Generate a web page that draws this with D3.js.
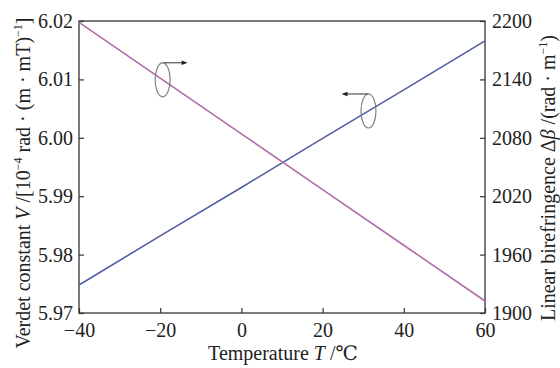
<!DOCTYPE html>
<html>
<head>
<meta charset="utf-8" />
<title>Verdet constant and linear birefringence</title>
<script src="https://d3js.org/d3.v7.min.js"></script>
<style>
  body { margin: 0; background: #fff; }
  text { font-family: "Liberation Serif", "DejaVu Serif", serif; fill: #222; }
</style>
</head>
<body>
<svg id="chart"></svg>
<script>
// data
var temps = [-40, -20, 0, 20, 40, 60];
var verdet = [5.9748, 5.9832, 5.9915, 5.9999, 6.0082, 6.0166];   // left axis
var biref = [2198.6, 2141.3, 2084.1, 2026.8, 1969.6, 1912.3];    // right axis
var xTicks = [-40, -20, 0, 20, 40, 60];
var leftTicks = [5.97, 5.98, 5.99, 6.00, 6.01, 6.02];
var rightTicks = [1900, 1960, 2020, 2080, 2140, 2200];

var width = 560, height = 368;
var margin = {top: 21, right: 75, bottom: 55, left: 79};

var svg = d3.select("#chart").attr("width", width).attr("height", height);

var x = d3.scaleLinear().domain([-40, 60]).range([margin.left, width - margin.right]);
var yL = d3.scaleLinear().domain([5.97, 6.02]).range([height - margin.bottom, margin.top]);
var yR = d3.scaleLinear().domain([1900, 2200]).range([height - margin.bottom, margin.top]);

// frame
svg.append("rect")
  .attr("x", margin.left).attr("y", margin.top)
  .attr("width", width - margin.left - margin.right)
  .attr("height", height - margin.top - margin.bottom)
  .attr("fill", "none").attr("stroke", "#333").attr("stroke-width", 1.3);

var fs = "20px";

var gx = svg.append("g")
  .attr("transform", "translate(0," + (height - margin.bottom) + ")")
  .call(d3.axisBottom(x).tickValues(xTicks).tickSize(-5).tickSizeOuter(0)
    .tickFormat(function(d){ return d < 0 ? "\u2212" + Math.abs(d) : d; }));

var gl = svg.append("g")
  .attr("transform", "translate(" + margin.left + ",0)")
  .call(d3.axisLeft(yL).tickValues(leftTicks).tickSize(-5).tickSizeOuter(0).tickPadding(6)
    .tickFormat(d3.format(".2f")));

var gr = svg.append("g")
  .attr("transform", "translate(" + (width - margin.right) + ",0)")
  .call(d3.axisRight(yR).tickValues(rightTicks).tickSize(-5).tickSizeOuter(0).tickPadding(7)
    .tickFormat(d3.format("d")));

[gx, gl, gr].forEach(function(g){
  g.select(".domain").remove();
  g.selectAll(".tick line").attr("stroke", "#333").attr("stroke-width", 1.2);
  g.selectAll(".tick text").attr("font-size", fs)
    .attr("font-family", "Liberation Serif, serif").attr("fill", "#222");
});
gx.selectAll(".tick text").attr("y", 24).attr("dy", 0);

// lines
var lineL = d3.line().x(function(d, i){ return x(temps[i]); }).y(function(d){ return yL(d); });
var lineR = d3.line().x(function(d, i){ return x(temps[i]); }).y(function(d){ return yR(d); });

svg.append("path").datum(verdet).attr("d", lineL)
  .attr("fill", "none").attr("stroke", "#4f5ea6").attr("stroke-width", 1.6);
svg.append("path").datum(biref).attr("d", lineR)
  .attr("fill", "none").attr("stroke", "#b26ca8").attr("stroke-width", 1.6);

// ellipse + arrow annotations: which axis each line belongs to
function valueAt(t, series) {
  return d3.scaleLinear().domain(temps).range(series)(t);
}

function annot(t, series, scale, dir, len) {
  var cx = x(t), cy = scale(valueAt(t, series));
  var ty = cy - 17;
  svg.append("ellipse").attr("cx", cx).attr("cy", cy).attr("rx", 7.5).attr("ry", 17)
    .attr("fill", "none").attr("stroke", "#808080").attr("stroke-width", 1.2);
  var x0 = dir > 0 ? cx + 1 : cx;
  var x1 = cx + dir * len;
  svg.append("line").attr("x1", x0).attr("y1", ty).attr("x2", x1 - dir * 4).attr("y2", ty)
    .attr("stroke", "#333").attr("stroke-width", 1);
  svg.append("path")
    .attr("d", "M" + x1 + "," + ty + "L" + (x1 - dir * 6) + "," + (ty - 2.2) + "L" + (x1 - dir * 6) + "," + (ty + 2.2) + "Z")
    .attr("fill", "#222");
}
annot(-19.4, biref, yR, 1, 25);
annot(31.3, verdet, yL, -1, 27);

// axis titles
var xt = svg.append("text").attr("x", 283).attr("y", 360).attr("text-anchor", "middle").attr("font-size", fs);
xt.append("tspan").text("Temperature ");
xt.append("tspan").attr("font-style", "italic").text("T");
xt.append("tspan").text(" /\u2103");

var lt = svg.append("text").attr("transform", "translate(30,183) rotate(-90)")
  .attr("text-anchor", "middle").attr("font-size", fs);
lt.append("tspan").text("Verdet constant ");
lt.append("tspan").attr("font-style", "italic").text("V");
lt.append("tspan").text(" /[10");
lt.append("tspan").attr("font-size", "12px").attr("dy", "-8").text("\u22124");
lt.append("tspan").attr("dy", "8").text(" rad \u00b7 (m \u00b7 mT)");
lt.append("tspan").attr("font-size", "12px").attr("dy", "-8").text("\u22121");
lt.append("tspan").attr("dy", "8").text("]");

var rt = svg.append("text").attr("transform", "translate(555,178) rotate(-90)")
  .attr("text-anchor", "middle").attr("font-size", fs);
rt.append("tspan").text("Linear birefringence \u0394");
rt.append("tspan").attr("font-style", "italic").text("\u03b2");
rt.append("tspan").text(" /(rad \u00b7 m");
rt.append("tspan").attr("font-size", "12px").attr("dy", "-8").text("\u22121");
rt.append("tspan").attr("dy", "8").text(")");
</script>
</body>
</html>
